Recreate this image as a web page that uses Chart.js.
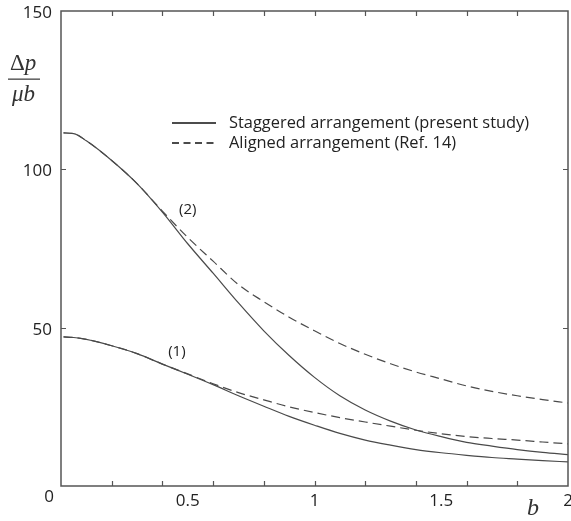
<!DOCTYPE html>
<html>
<head>
<meta charset="utf-8">
<script src="https://cdn.jsdelivr.net/npm/chart.js@4"></script>
<style>
  html, body { margin: 0; padding: 0; background: #fff; }
  #wrap { width: 571px; height: 521px; }
</style>
</head>
<body>
<div id="wrap"><canvas id="pChart" width="571" height="521"></canvas></div>
<script>
// b values along the curves
var bValues = [0.01, 0.05, 0.1, 0.2, 0.3, 0.4, 0.5, 0.6, 0.7, 0.8, 0.9, 1.0, 1.1, 1.2, 1.3, 1.4, 1.5, 1.6, 1.7, 1.8, 1.9, 2.0];
// curve (2)
var staggered2 = [111.5, 111.3, 109, 102.8, 95.5, 86.5, 76.5, 67.2, 57.8, 49, 41.2, 34.3, 28.5, 24, 20.5, 17.7, 15.6, 13.8, 12.6, 11.5, 10.6, 9.9];
var aligned2 = [111.5, 111.3, 109, 102.8, 95.5, 86.8, 78.5, 71, 63.6, 58.2, 53.3, 49, 45, 41.6, 38.6, 36, 33.8, 31.6, 29.9, 28.5, 27.3, 26.2];
// curve (1)
var staggered1 = [47.1, 46.9, 46.3, 44.3, 41.8, 38.5, 35.3, 32.0, 28.5, 25.2, 22.0, 19.2, 16.6, 14.5, 12.9, 11.5, 10.5, 9.7, 9.0, 8.5, 8.0, 7.6];
var aligned1 = [47.1, 46.9, 46.3, 44.3, 41.8, 38.5, 35.4, 32.3, 29.5, 27.2, 25.0, 23.2, 21.6, 20.2, 18.9, 17.6, 16.5, 15.6, 15.0, 14.5, 13.9, 13.3];

var xTickMarks = [0.2, 0.4, 0.6, 0.8, 1.0, 1.2, 1.4, 1.6, 1.8];
var xTickLabels = [0.5, 1, 1.5, 2];
var yTickMarks = [50, 100];
var yTickLabels = [150, 100, 50];
var legendLabels = ['Staggered arrangement (present study)', 'Aligned arrangement (Ref. 14)'];
var curveTags = [{ text: '(1)', x: 0.457, y: 42.3 }, { text: '(2)', x: 0.5, y: 87.2 }];

function pts(ys) {
  return bValues.map(function (b, i) { return { x: b, y: ys[i] }; });
}

var lineColor = '#4a4a4a';
var dash = [9, 5];

// axes box, inward ticks, labels and legend
var framePlugin = {
  id: 'frame',
  afterDraw: function (chart) {
    var ctx = chart.ctx;
    var a = chart.chartArea;
    var xs = chart.scales.x, ys = chart.scales.y;
    ctx.save();
    ctx.strokeStyle = '#555';
    ctx.lineWidth = 1.5;
    ctx.strokeRect(a.left, a.top, a.right - a.left, a.bottom - a.top);

    ctx.lineWidth = 1.2;
    ctx.beginPath();
    xTickMarks.forEach(function (v) {
      var px = Math.round(xs.getPixelForValue(v)) + 0.5;
      ctx.moveTo(px, a.bottom); ctx.lineTo(px, a.bottom - 5);
      ctx.moveTo(px, a.top); ctx.lineTo(px, a.top + 5);
    });
    yTickMarks.forEach(function (v) {
      var py = Math.round(ys.getPixelForValue(v)) + 0.5;
      ctx.moveTo(a.left, py); ctx.lineTo(a.left + 5, py);
      ctx.moveTo(a.right, py); ctx.lineTo(a.right - 5, py);
    });
    ctx.stroke();

    ctx.fillStyle = '#222';
    ctx.font = '17px "Open Sans"';
    ctx.textBaseline = 'middle';
    ctx.textAlign = 'right';
    yTickLabels.forEach(function (v) {
      ctx.fillText(String(v), a.left - 9, ys.getPixelForValue(v) + 2);
    });
    ctx.fillText('0', a.left - 7, a.bottom + 11);
    ctx.textAlign = 'center';
    xTickLabels.forEach(function (v) {
      ctx.fillText(String(v), xs.getPixelForValue(v), a.bottom + 15);
    });

    // axis titles
    ctx.font = 'italic 24px "Liberation Serif"';
    ctx.fillStyle = '#333';
    ctx.fillText('b', 533, 509);
    ctx.textAlign = 'left';
    ctx.font = '23px "Liberation Serif"';
    ctx.fillText('\u0394', 10, 64);
    var w = ctx.measureText('\u0394').width;
    ctx.font = 'italic 23px "Liberation Serif"';
    ctx.fillText('p', 10 + w, 64);
    ctx.fillText('\u03bcb', 12, 95);
    ctx.fillStyle = '#444';
    ctx.fillRect(8, 78.5, 32, 1.3);

    // legend
    ctx.strokeStyle = '#111';
    ctx.lineWidth = 1.6;
    ctx.beginPath();
    ctx.moveTo(172, 123); ctx.lineTo(216, 123);
    ctx.stroke();
    ctx.setLineDash([7, 4.5]);
    ctx.beginPath();
    ctx.moveTo(172, 143); ctx.lineTo(216, 143);
    ctx.stroke();
    ctx.setLineDash([]);
    ctx.fillStyle = '#222';
    ctx.font = '16.4px "Open Sans"';
    ctx.fillText(legendLabels[0], 229, 123);
    ctx.fillText(legendLabels[1], 229, 143);

    // curve tags
    ctx.font = '15px "Open Sans"';
    ctx.textAlign = 'center';
    curveTags.forEach(function (t) {
      ctx.fillText(t.text, xs.getPixelForValue(t.x), ys.getPixelForValue(t.y));
    });
    ctx.restore();
  }
};

var ctx = document.getElementById('pChart').getContext('2d');
var pChart = new Chart(ctx, {
  type: 'line',
  data: {
    datasets: [
      { label: legendLabels[0] + ' (2)', data: pts(staggered2), borderColor: lineColor },
      { label: legendLabels[1] + ' (2)', data: pts(aligned2), borderColor: lineColor, borderDash: dash },
      { label: legendLabels[0] + ' (1)', data: pts(staggered1), borderColor: lineColor },
      { label: legendLabels[1] + ' (1)', data: pts(aligned1), borderColor: lineColor, borderDash: dash }
    ]
  },
  options: {
    responsive: false,
    animation: false,
    layout: { padding: { left: 61, right: 3, top: 11, bottom: 35 } },
    elements: {
      point: { radius: 0 },
      line: { borderWidth: 1.2, cubicInterpolationMode: 'monotone', fill: false }
    },
    scales: {
      x: { type: 'linear', min: 0, max: 2, display: false },
      y: { type: 'linear', min: 0, max: 150, display: false }
    },
    plugins: {
      legend: { display: false },
      tooltip: { enabled: false }
    }
  },
  plugins: [framePlugin]
});
</script>
</body>
</html>
